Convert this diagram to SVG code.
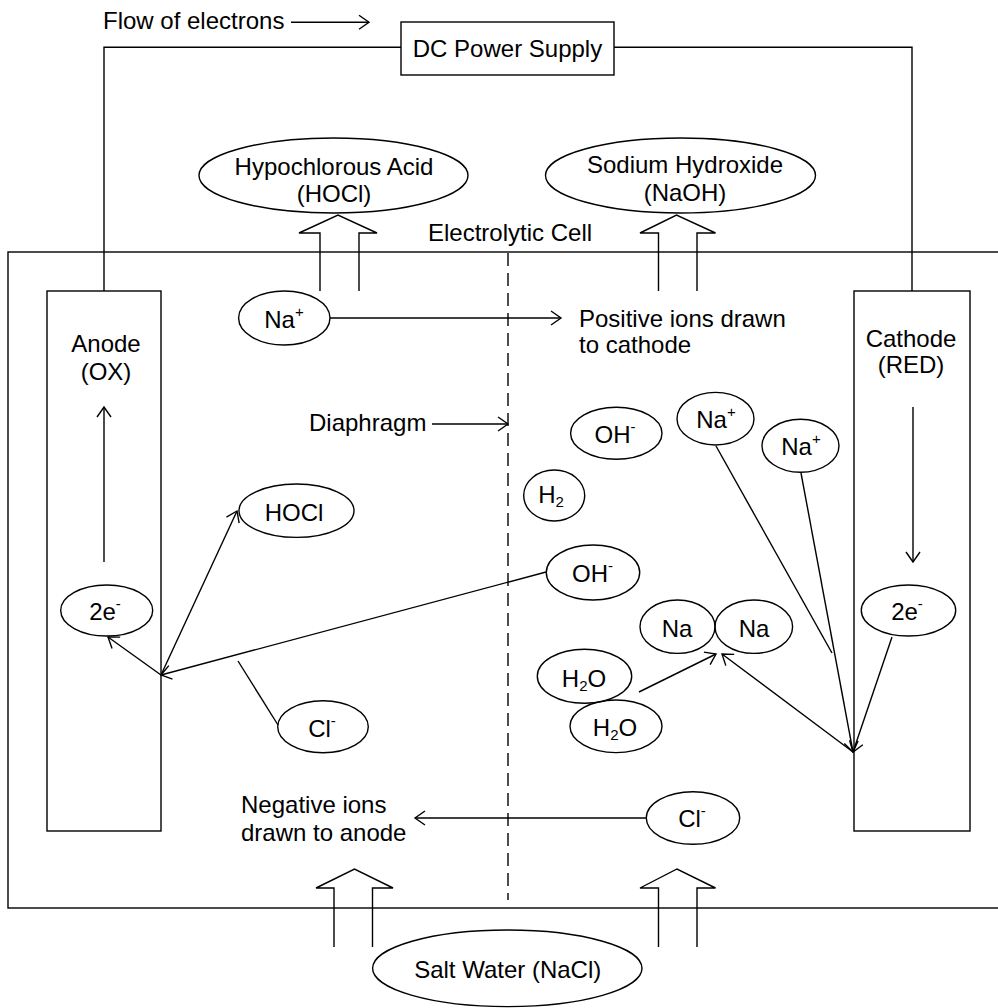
<svg xmlns="http://www.w3.org/2000/svg" width="998" height="1008" viewBox="0 0 998 1008">
<defs>
<style>
text{font-family:"Liberation Sans",Arial,sans-serif;font-size:24px;fill:#000}
.m{text-anchor:middle}
.s{font-size:15px}
.b{fill:none;stroke:#000;stroke-width:1.4}
.e{fill:none;stroke:#000;stroke-width:1.4}
.c{fill:none;stroke:#000;stroke-width:1.4}
.a{fill:none;stroke:#000;stroke-width:1.4;marker-end:url(#ah)}
</style>
<marker id="ah" markerUnits="userSpaceOnUse" markerWidth="16" markerHeight="16" refX="12" refY="7" orient="auto" overflow="visible">
<path d="M2,0 L12,7 L2,14" fill="none" stroke="#000" stroke-width="1.4"/>
</marker>
</defs>
<rect width="998" height="1008" fill="#fff"/>

<g id="cell">
<rect class="b" x="8" y="252" width="1000" height="656"/>
<text x="428" y="241">Electrolytic Cell</text>
</g>
<g id="diaphragm-line">
<line x1="508" y1="253" x2="508" y2="900" stroke="#000" stroke-width="1.4" stroke-dasharray="13 7"/>
</g>
<g id="dc-power">
<rect class="b" x="401" y="22" width="213" height="53"/>
<text class="m" x="507.5" y="57">DC Power Supply</text>
</g>
<g id="anode">
<rect class="b" x="47" y="291" width="114" height="540"/>
<text class="m" x="106" y="352">Anode</text>
<text class="m" x="106" y="380">(OX)</text>
</g>
<g id="cathode">
<rect class="b" x="854" y="291" width="116" height="540"/>
<text class="m" x="911" y="347">Cathode</text>
<text class="m" x="911" y="373">(RED)</text>
</g>

<g id="hocl-product">
<ellipse class="e" cx="333.5" cy="175.5" rx="134.5" ry="37.5"/>
<text class="m" x="334" y="175">Hypochlorous Acid</text>
<text class="m" x="334" y="202">(HOCl)</text>
</g>
<g id="naoh-product">
<ellipse class="e" cx="680.5" cy="175.5" rx="135" ry="37.5"/>
<text class="m" x="685" y="173">Sodium Hydroxide</text>
<text class="m" x="685" y="201">(NaOH)</text>
</g>
<g id="salt-water">
<ellipse class="e" cx="507.3" cy="968.3" rx="134.7" ry="38.3"/>
<text class="m" x="507.7" y="978">Salt Water (NaCl)</text>
</g>

<g id="na-plus-1">
<ellipse class="e" cx="284.3" cy="318" rx="45.7" ry="27"/>
<text class="m" x="284" y="328">Na<tspan class="s" dy="-11">+</tspan></text>
</g>
<g id="hocl">
<ellipse class="e" cx="296.5" cy="510.7" rx="57.5" ry="26.7"/>
<text class="m" x="294" y="521">HOCl</text>
</g>
<g id="e-anode">
<ellipse class="e" cx="106.7" cy="610.5" rx="46" ry="25.5"/>
<text class="m" x="105" y="620">2e<tspan class="s" dy="-11">-</tspan></text>
</g>
<g id="cl-left">
<ellipse class="e" cx="323" cy="726.7" rx="45.3" ry="26"/>
<text class="m" x="322" y="737">Cl<tspan class="s" dy="-11">-</tspan></text>
</g>
<g id="oh-1">
<ellipse class="e" cx="616.3" cy="433.3" rx="45.7" ry="26"/>
<text class="m" x="615" y="443">OH<tspan class="s" dy="-11">-</tspan></text>
</g>
<g id="na-plus-2">
<ellipse class="e" cx="715.5" cy="418.7" rx="38.5" ry="26.3"/>
<text class="m" x="716" y="428">Na<tspan class="s" dy="-11">+</tspan></text>
</g>
<g id="na-plus-3">
<ellipse class="e" cx="800.5" cy="445.8" rx="38.5" ry="26.5"/>
<text class="m" x="801" y="455">Na<tspan class="s" dy="-11">+</tspan></text>
</g>
<g id="h2">
<ellipse class="e" cx="554.2" cy="495.5" rx="30.5" ry="25.5"/>
<text class="m" x="551" y="503">H<tspan class="s" dy="4">2</tspan></text>
</g>
<g id="oh-2">
<ellipse class="e" cx="593" cy="572.5" rx="46.7" ry="27.5"/>
<text class="m" x="592.5" y="582">OH<tspan class="s" dy="-11">-</tspan></text>
</g>
<g id="na-1">
<ellipse class="e" cx="677.5" cy="626.7" rx="37.5" ry="26.7"/>
<text class="m" x="677" y="637">Na</text>
</g>
<g id="na-2">
<ellipse class="e" cx="753.8" cy="626.7" rx="38.8" ry="26.7"/>
<text class="m" x="754" y="637">Na</text>
</g>
<g id="h2o-1">
<ellipse class="e" cx="584.5" cy="676.3" rx="47.2" ry="27"/>
<text class="m" x="584" y="687">H<tspan class="s" dy="4">2</tspan><tspan dy="-4">O</tspan></text>
</g>
<g id="h2o-2">
<ellipse class="e" cx="616" cy="726.3" rx="46" ry="26.3"/>
<text class="m" x="615" y="736">H<tspan class="s" dy="4">2</tspan><tspan dy="-4">O</tspan></text>
</g>
<g id="e-cathode">
<ellipse class="e" cx="908.5" cy="610.5" rx="47.2" ry="25.5"/>
<text class="m" x="907" y="620">2e<tspan class="s" dy="-11">-</tspan></text>
</g>
<g id="cl-right">
<ellipse class="e" cx="693" cy="818" rx="46.7" ry="26.3"/>
<text class="m" x="692" y="827">Cl<tspan class="s" dy="-11">-</tspan></text>
</g>

<g id="labels">
<text x="103" y="29">Flow of electrons</text>
<text x="579" y="327">Positive ions drawn</text>
<text x="579" y="353">to cathode</text>
<text x="309" y="431">Diaphragm</text>
<text x="241" y="813">Negative ions</text>
<text x="241" y="841">drawn to anode</text>
</g>

<g id="connectors">
<polyline class="c" points="104,291 104,47.3 401,47.3"/>
<polyline class="c" points="614,47.3 912,47.3 912,291"/>
<polyline class="c" points="320,291 320,233 299,233 338,215 377,233 359,233 359,291"/>
<polyline class="c" points="658.5,291 658.5,233 640,233 676.5,215 715.5,233 697,233 697,291"/>
<polyline class="c" points="334,947 334,888 316,888 354.5,869 393,888 372.5,888 372.5,947"/>
<polyline class="c" points="658.5,947 658.5,888 640,888 677,869 715.5,888 697,888 697,947"/>
<line class="a" x1="291" y1="22.3" x2="369" y2="22.3"/>
<line class="a" x1="104" y1="562" x2="104" y2="407"/>
<line class="a" x1="913" y1="407" x2="913" y2="562"/>
<line class="a" x1="330" y1="318" x2="561" y2="318"/>
<line class="a" x1="432" y1="424" x2="508" y2="424"/>
<line class="a" x1="161" y1="675" x2="237" y2="511"/>
<line class="a" x1="161" y1="675" x2="108" y2="637"/>
<line class="a" x1="546" y1="572" x2="161" y2="675"/>
<line class="c" x1="278" y1="725" x2="238" y2="661"/>
<line class="a" x1="639" y1="692" x2="716" y2="654"/>
<line class="a" x1="853" y1="752" x2="722" y2="654"/>
<line class="c" x1="716" y1="446" x2="832" y2="653"/>
<line class="a" x1="801" y1="473" x2="853" y2="752"/>
<line class="a" x1="892" y1="637" x2="853" y2="752"/>
<line class="a" x1="646" y1="818" x2="415" y2="818"/>
</g>
</svg>
